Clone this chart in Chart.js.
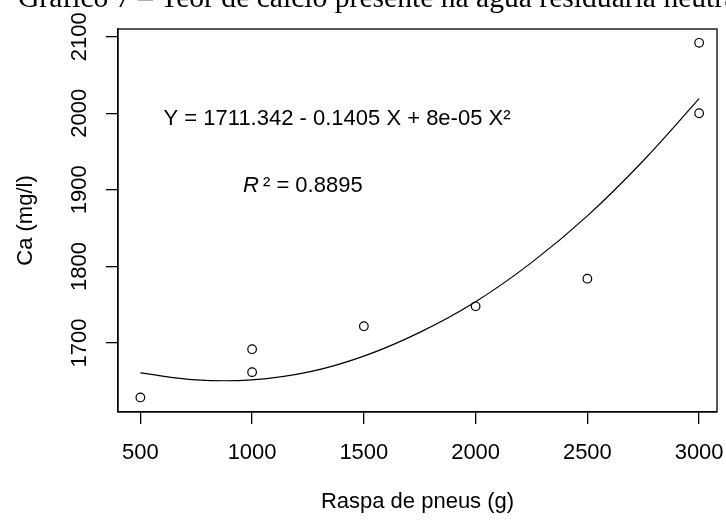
<!DOCTYPE html>
<html>
<head>
<meta charset="utf-8">
<script src="https://cdn.jsdelivr.net/npm/chart.js@4/dist/chart.umd.min.js"></script>
<style>
body { margin: 0; background: #fff; }
canvas { display: block; }
</style>
</head>
<body>
<canvas id="grafico" width="726" height="521"></canvas>
<script>
// dados
var raspa = [500, 1000, 1000, 1500, 2000, 2500, 3000, 3000];
var calcio = [1629, 1692, 1662, 1722, 1748, 1784, 2000, 2092];

// curva ajustada
var curvaX = [500, 750, 1000, 1250, 1500, 1750, 2000, 2250, 2500, 2750, 3000];
var curvaY = [1661, 1652, 1652, 1662, 1683, 1714, 1754, 1805, 1866, 1938, 2019];

var ticksX = [500, 1000, 1500, 2000, 2500, 3000];
var ticksY = [1700, 1800, 1900, 2000, 2100];

var fonte = "'Liberation Sans', Arial, sans-serif";

var pontos = raspa.map(function (x, i) { return { x: x, y: calcio[i] }; });
var curva = curvaX.map(function (x, i) { return { x: x, y: curvaY[i] }; });

var textos = {
  id: 'textos',
  afterDraw: function (chart) {
    var ctx = chart.ctx;
    var a = chart.chartArea;
    var sx = chart.scales.x;
    var sy = chart.scales.y;
    ctx.save();
    ctx.strokeStyle = '#000';
    ctx.lineWidth = 1.3;
    ctx.strokeRect(a.left, a.top, a.right - a.left, a.bottom - a.top);

    ctx.fillStyle = '#000';
    // titulo cortado no topo
    ctx.font = "29.6px 'Liberation Serif', 'Times New Roman', serif";
    ctx.textAlign = 'left';
    ctx.textBaseline = 'alphabetic';
    ctx.fillText('Gráfico 7 – Teor de cálcio presente na água residuária neutra', 18, 7);

    // rotulos do eixo y (verticais)
    ctx.font = '22px ' + fonte;
    ctx.textAlign = 'center';
    sy.ticks.forEach(function (t) {
      var py = sy.getPixelForValue(t.value);
      ctx.save();
      ctx.translate(86, py);
      ctx.rotate(-Math.PI / 2);
      ctx.fillText(String(t.value), 0, 0);
      ctx.restore();
    });

    // titulo eixo y
    ctx.save();
    ctx.translate(32, (a.top + a.bottom) / 2);
    ctx.rotate(-Math.PI / 2);
    ctx.fillText('Ca (mg/l)', 0, 0);
    ctx.restore();

    // titulo eixo x
    ctx.fillText('Raspa de pneus (g)', (a.left + a.right) / 2, 508);

    // equacao e R2
    ctx.textBaseline = 'middle';
    ctx.fillText('Y = 1711.342 - 0.1405 X + 8e-05 X²', sx.getPixelForValue(1380), sy.getPixelForValue(1993));
    var rx = sx.getPixelForValue(959);
    var ry = sy.getPixelForValue(1905);
    ctx.textAlign = 'left';
    ctx.font = 'italic 22px ' + fonte;
    ctx.fillText('R', rx, ry);
    ctx.font = '22px ' + fonte;
    ctx.fillText('² = 0.8895', rx + 20, ry);
    ctx.restore();
  }
};

new Chart(document.getElementById('grafico'), {
  type: 'scatter',
  data: {
    datasets: [
      {
        label: 'Ca',
        data: pontos,
        showLine: false,
        pointStyle: 'circle',
        pointRadius: 4.3,
        pointBorderWidth: 1.2,
        pointBorderColor: '#000',
        pointBackgroundColor: 'rgba(0,0,0,0)'
      },
      {
        label: 'ajuste',
        data: curva,
        showLine: true,
        borderColor: '#000',
        borderWidth: 1.2,
        pointRadius: 0,
        tension: 0.4,
        fill: false
      }
    ]
  },
  options: {
    responsive: false,
    animation: false,
    devicePixelRatio: 1,
    layout: { padding: { top: 29, right: 9, left: 0, bottom: 0 } },
    plugins: {
      legend: { display: false },
      tooltip: { enabled: false },
      title: { display: false }
    },
    scales: {
      x: {
        type: 'linear',
        min: 400,
        max: 3080,
        afterBuildTicks: function (s) { s.ticks = ticksX.map(function (v) { return { value: v }; }); },
        afterFit: function (s) { s.height = 109; s.paddingLeft = 0; s.paddingRight = 0; },
        border: { display: true, color: '#000', width: 1.3 },
        grid: { drawOnChartArea: false, drawTicks: true, tickLength: 12, color: '#000', lineWidth: 1.3 },
        ticks: {
          autoSkip: false,
          maxRotation: 0,
          padding: 16,
          color: '#000',
          font: { family: fonte, size: 22 },
          callback: function (v) { return String(v); }
        }
      },
      y: {
        type: 'linear',
        min: 1610,
        max: 2110,
        afterBuildTicks: function (s) { s.ticks = ticksY.map(function (v) { return { value: v }; }); },
        afterFit: function (s) { s.width = 118; s.paddingTop = 0; s.paddingBottom = 0; },
        border: { display: true, color: '#000', width: 1.3 },
        grid: { drawOnChartArea: false, drawTicks: true, tickLength: 12, color: '#000', lineWidth: 1.3 },
        ticks: { display: false }
      }
    }
  },
  plugins: [textos]
});
</script>
</body>
</html>
